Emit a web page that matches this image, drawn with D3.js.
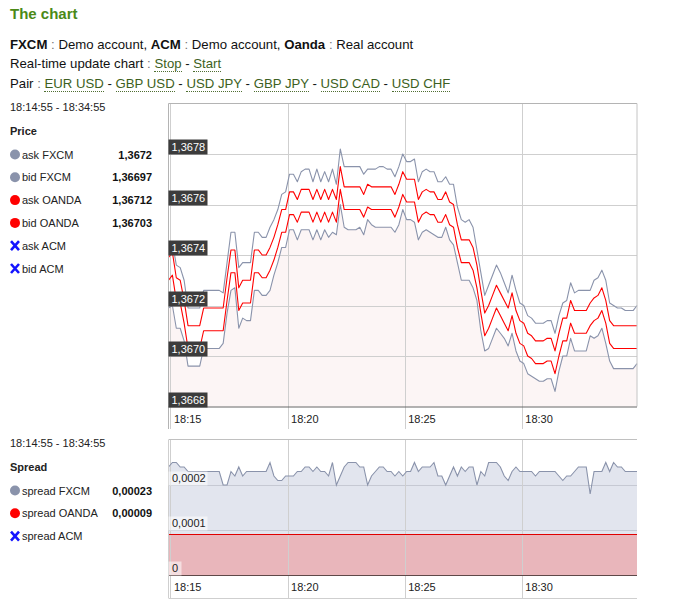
<!DOCTYPE html>
<html><head><meta charset="utf-8">
<script src="https://cdn.jsdelivr.net/npm/d3@7/dist/d3.min.js"></script>
<style>
body{margin:0;background:#fff;font-family:"Liberation Sans",Arial,sans-serif;}
#hdr{position:absolute;left:10px;top:34.5px;font-size:13.2px;line-height:19.6px;color:#111;white-space:nowrap}
#ttl{position:absolute;left:10px;top:5.5px;font-size:15px;line-height:15px;font-weight:bold;color:#4b8a17}
.lk{color:#3d5f22;border-bottom:1px dotted #4f6f32}
.c{color:#777}
svg{position:absolute;left:0;top:0}
</style></head><body>
<div id="ttl">The chart</div>
<div id="hdr">
<div><b>FXCM</b> <span class="c">:</span> Demo account, <b>ACM</b> <span class="c">:</span> Demo account, <b>Oanda</b> <span class="c">:</span> Real account</div>
<div>Real-time update chart <span class="c">:</span> <span class="lk">Stop</span> - <span class="lk">Start</span></div>
<div>Pair <span class="c">:</span> <span class="lk">EUR USD</span> - <span class="lk">GBP USD</span> - <span class="lk">USD JPY</span> - <span class="lk">GBP JPY</span> - <span class="lk">USD CAD</span> - <span class="lk">USD CHF</span></div>
</div>
<svg id="chart" width="687" height="604"></svg>
<script>
// ---- data (10 s samples from 18:14:55 to 18:34:55) ----
const startTime = "18:14:55";
const stepSeconds = 10;
const askFXCM = [1.36743,1.36745,1.36736,1.36735,1.36730,1.36719,1.36719,1.36719,1.36719,1.36726,1.36726,1.36726,1.36726,1.36726,1.36725,
1.36737,1.36749,1.36749,1.36735,1.36737,1.36737,1.36737,1.36749,1.36749,1.36747,1.36747,1.36751,1.36754,1.36758,1.36764,
1.36765,1.36772,1.36772,1.36769,1.36773,1.36774,1.36774,1.36769,1.36774,1.36769,1.36773,1.36769,1.36774,1.36768,1.36782,
1.36775,1.36775,1.36775,1.36775,1.36775,1.36772,1.36774,1.36774,1.36774,1.36775,1.36775,1.36774,1.36774,1.36771,1.36775,
1.36780,1.36777,1.36777,1.36778,1.36769,1.36773,1.36774,1.36773,1.36773,1.36769,1.36769,1.36771,1.36768,1.36768,1.36759,
1.36754,1.36753,1.36754,1.36751,1.36742,1.36733,1.36724,1.36728,1.36732,1.36736,1.36733,1.36729,1.36725,1.36732,1.36726,
1.36721,1.36720,1.36716,1.36715,1.36713,1.36713,1.36713,1.36714,1.36714,1.36709,1.36716,1.36721,1.36722,1.36729,1.36725,
1.36726,1.36726,1.36726,1.36726,1.36730,1.36731,1.36734,1.36730,1.36721,1.36720,1.36719,1.36719,1.36718,1.36718,1.36718,1.36720];
const bidFXCM = [1.36719,1.36720,1.36711,1.36711,1.36706,1.36696,1.36696,1.36696,1.36696,1.36703,1.36703,1.36703,1.36703,1.36703,1.36705,
1.36717,1.36726,1.36727,1.36711,1.36715,1.36714,1.36714,1.36726,1.36726,1.36724,1.36724,1.36726,1.36732,1.36737,1.36743,
1.36743,1.36750,1.36750,1.36746,1.36750,1.36750,1.36750,1.36746,1.36750,1.36746,1.36750,1.36747,1.36749,1.36748,1.36760,
1.36751,1.36750,1.36750,1.36750,1.36751,1.36748,1.36754,1.36752,1.36751,1.36751,1.36751,1.36751,1.36751,1.36749,1.36752,
1.36758,1.36754,1.36754,1.36753,1.36746,1.36749,1.36750,1.36749,1.36748,1.36747,1.36747,1.36751,1.36746,1.36744,1.36737,
1.36730,1.36730,1.36730,1.36727,1.36722,1.36710,1.36702,1.36703,1.36707,1.36711,1.36709,1.36707,1.36704,1.36709,1.36702,
1.36698,1.36697,1.36693,1.36692,1.36691,1.36690,1.36690,1.36691,1.36691,1.36686,1.36694,1.36700,1.36700,1.36707,1.36702,
1.36702,1.36702,1.36702,1.36708,1.36707,1.36708,1.36711,1.36705,1.36698,1.36695,1.36695,1.36695,1.36695,1.36695,1.36695,1.36697];
const askOANDA = [1.36739,1.36741,1.36731,1.36730,1.36722,1.36712,1.36712,1.36712,1.36712,1.36719,1.36719,1.36719,1.36719,1.36719,1.36719,
1.36731,1.36742,1.36742,1.36727,1.36730,1.36730,1.36730,1.36742,1.36742,1.36740,1.36740,1.36743,1.36747,1.36752,1.36758,
1.36758,1.36765,1.36765,1.36762,1.36766,1.36766,1.36766,1.36762,1.36766,1.36762,1.36766,1.36762,1.36766,1.36762,1.36775,
1.36767,1.36767,1.36767,1.36767,1.36767,1.36764,1.36768,1.36767,1.36767,1.36767,1.36767,1.36767,1.36767,1.36764,1.36768,
1.36773,1.36770,1.36770,1.36770,1.36762,1.36765,1.36766,1.36765,1.36765,1.36762,1.36762,1.36765,1.36761,1.36760,1.36752,
1.36746,1.36746,1.36746,1.36743,1.36736,1.36726,1.36717,1.36720,1.36724,1.36728,1.36725,1.36722,1.36719,1.36725,1.36718,
1.36714,1.36713,1.36709,1.36708,1.36706,1.36706,1.36706,1.36707,1.36707,1.36702,1.36709,1.36715,1.36715,1.36722,1.36718,
1.36718,1.36718,1.36718,1.36721,1.36723,1.36724,1.36727,1.36722,1.36714,1.36712,1.36712,1.36712,1.36712,1.36712,1.36712,1.36712];
const bidOANDA = [1.36730,1.36732,1.36722,1.36721,1.36713,1.36703,1.36703,1.36703,1.36703,1.36710,1.36710,1.36710,1.36710,1.36710,1.36710,
1.36722,1.36733,1.36733,1.36718,1.36721,1.36721,1.36721,1.36733,1.36733,1.36731,1.36731,1.36734,1.36738,1.36743,1.36749,
1.36749,1.36756,1.36756,1.36753,1.36757,1.36757,1.36757,1.36753,1.36757,1.36753,1.36757,1.36753,1.36757,1.36753,1.36766,
1.36758,1.36758,1.36758,1.36758,1.36758,1.36755,1.36759,1.36758,1.36758,1.36758,1.36758,1.36758,1.36758,1.36755,1.36759,
1.36764,1.36761,1.36761,1.36761,1.36753,1.36756,1.36757,1.36756,1.36756,1.36753,1.36753,1.36756,1.36752,1.36751,1.36743,
1.36737,1.36737,1.36737,1.36734,1.36727,1.36717,1.36708,1.36711,1.36715,1.36719,1.36716,1.36713,1.36710,1.36716,1.36709,
1.36705,1.36704,1.36700,1.36699,1.36697,1.36697,1.36697,1.36698,1.36698,1.36693,1.36700,1.36706,1.36706,1.36713,1.36709,
1.36709,1.36709,1.36709,1.36712,1.36714,1.36715,1.36718,1.36713,1.36705,1.36703,1.36703,1.36703,1.36703,1.36703,1.36703,1.36703];
const priceTicks = [1.3668, 1.3670, 1.3672, 1.3674, 1.3676, 1.3678];
const priceDomain = [1.3668, 1.3680];
const spreadTicks = [0, 0.0001, 0.0002];
const spreadDomain = [0, 0.0003];
const rangeLabel = "18:14:55 - 18:34:55";
const priceLegend = [
  {name:"ask FXCM", mark:"dot", color:"#8a93ab", series:askFXCM},
  {name:"bid FXCM", mark:"dot", color:"#8a93ab", series:bidFXCM},
  {name:"ask OANDA", mark:"dot", color:"#ff0000", series:askOANDA},
  {name:"bid OANDA", mark:"dot", color:"#ff0000", series:bidOANDA},
  {name:"ask ACM", mark:"x", color:"#1414ff", series:null},
  {name:"bid ACM", mark:"x", color:"#1414ff", series:null}
];

// ---- derived ----
const n = askFXCM.length;
const [hh, mm, ss] = startTime.split(":").map(Number);
const t0 = new Date(2000, 0, 1, hh, mm, ss);
const times = d3.range(n).map(i => new Date(+t0 + i * stepSeconds * 1000));
const spreadFXCM = askFXCM.map((v, i) => v - bidFXCM[i]);
const spreadOANDA = askOANDA.map((v, i) => v - bidOANDA[i]);
const spreadLegend = [
  {name:"spread FXCM", mark:"dot", color:"#8a93ab", series:spreadFXCM},
  {name:"spread OANDA", mark:"dot", color:"#ff0000", series:spreadOANDA},
  {name:"spread ACM", mark:"x", color:"#1414ff", series:null}
];

const svg = d3.select("#chart");
const FONT = '"Liberation Sans", Arial, sans-serif';
const L = 168.5, R = 637;
const x = d3.scaleTime().domain([times[0], times[n - 1]]).range([L, R]);
const xTicks = x.ticks(d3.timeMinute.every(5));
const fmtT = d3.timeFormat("%H:%M");
const comma = s => s.replace(".", ",");

// ---------- price chart ----------
const PT = 103.5, PB = 406.5;
const y = d3.scaleLinear().domain(priceDomain).range([PB, PT]);
const g1 = svg.append("g");
g1.append("path").datum(bidFXCM)
  .attr("d", d3.area().x((d, i) => x(times[i])).y0(PB).y1(d => y(d)))
  .attr("fill", "#fcf5f5");
g1.selectAll("line.h").data(priceTicks.slice(1)).join("line")
  .attr("x1", L).attr("x2", R).attr("y1", d => Math.round(y(d)) + 0.5).attr("y2", d => Math.round(y(d)) + 0.5)
  .attr("stroke", "#cfcfcf");
g1.selectAll("line.v").data(xTicks).join("line")
  .attr("x1", d => Math.round(x(d)) + 0.5).attr("x2", d => Math.round(x(d)) + 0.5)
  .attr("y1", PT).attr("y2", 429).attr("stroke", "#cfcfcf");
const priceLine = d3.line().x((d, i) => x(times[i])).y(d => y(d));
[[askFXCM, "#8a93ab"], [bidFXCM, "#8a93ab"], [askOANDA, "#ff0000"], [bidOANDA, "#ff0000"]].forEach(([s, c]) => {
  g1.append("path").datum(s).attr("d", priceLine).attr("fill", "none")
    .attr("stroke", c).attr("stroke-width", 1.1).attr("stroke-linejoin", "round");
});
// frame
g1.append("line").attr("x1", L).attr("x2", R).attr("y1", PT).attr("y2", PT).attr("stroke", "#b4b4b4");
g1.append("line").attr("x1", L).attr("x2", L).attr("y1", PT).attr("y2", 429).attr("stroke", "#b4b4b4");
g1.append("line").attr("x1", R).attr("x2", R).attr("y1", PT).attr("y2", PB).attr("stroke", "#c4c4c4");
g1.append("line").attr("x1", L).attr("x2", R).attr("y1", PB + 0.5).attr("y2", PB + 0.5).attr("stroke", "#666");
// y labels
const yl = g1.selectAll("g.yl").data(priceTicks).join("g")
  .attr("transform", d => `translate(${L},${Math.round(y(d)) + 0.5})`);
yl.append("rect").attr("x", 0).attr("y", -15).attr("width", 39).attr("height", 15).attr("fill", "#3c3c3c");
yl.append("text").attr("x", 3).attr("y", -3.5).text(d => comma(d.toFixed(4)))
  .attr("fill", "#fff").attr("font-size", 11).attr("font-family", FONT);
// x labels
g1.selectAll("text.xl").data(xTicks).join("text")
  .attr("x", d => x(d) + 3.5).attr("y", 423).text(fmtT)
  .attr("font-size", 11).attr("font-family", FONT).attr("fill", "#222");

// ---------- spread chart ----------
const ST = 440, SB = 575;
const ys = d3.scaleLinear().domain(spreadDomain).range([SB, ST]);
const g2 = svg.append("g");
g2.append("line").attr("x1", L).attr("x2", R).attr("y1", 439.5).attr("y2", 439.5).attr("stroke", "#c0c0c0");
g2.append("path").datum(spreadFXCM)
  .attr("d", d3.area().x((d, i) => x(times[i])).y0(SB).y1(d => ys(d))).attr("fill", "#e2e5ee");
g2.selectAll("line.h").data(spreadTicks.slice(1)).join("line")
  .attr("x1", L).attr("x2", R).attr("y1", d => Math.round(ys(d)) + 0.5).attr("y2", d => Math.round(ys(d)) + 0.5)
  .attr("stroke", "#c6c9d3");
g2.append("path").datum(spreadOANDA)
  .attr("d", d3.area().x((d, i) => x(times[i])).y0(SB).y1(d => ys(d))).attr("fill", "#e9b6bb");
g2.selectAll("line.v").data(xTicks).join("line")
  .attr("x1", d => Math.round(x(d)) + 0.5).attr("x2", d => Math.round(x(d)) + 0.5)
  .attr("y1", ST).attr("y2", 598).attr("stroke", "#cfcfcf");
const spreadLine = d3.line().x((d, i) => x(times[i])).y(d => ys(d));
g2.append("path").datum(spreadFXCM).attr("d", spreadLine).attr("fill", "none").attr("stroke", "#8a93ab").attr("stroke-width", 1.1);
g2.append("path").datum(spreadOANDA).attr("d", spreadLine).attr("fill", "none").attr("stroke", "#e00000").attr("stroke-width", 1.2);
g2.append("line").attr("x1", L).attr("x2", R).attr("y1", SB + 0.5).attr("y2", SB + 0.5).attr("stroke", "#5e4848").attr("stroke-width", 1.2);
g2.append("line").attr("x1", L).attr("x2", R).attr("y1", 598.5).attr("y2", 598.5).attr("stroke", "#cfcfcf");
g2.append("line").attr("x1", L).attr("x2", L).attr("y1", ST).attr("y2", 598).attr("stroke", "#cfcfcf");
const sl = g2.selectAll("g.sl").data(spreadTicks).join("g")
  .attr("transform", d => `translate(${L},${Math.round(ys(d)) + 0.5})`);
sl.append("rect").attr("x", 0).attr("y", -14).attr("height", 14)
  .attr("width", d => d === 0 ? 13 : 39).attr("fill", "#fff").attr("fill-opacity", 0.55);
sl.append("text").attr("x", 3.5).attr("y", -3.5).text(d => d === 0 ? "0" : comma(d.toFixed(4)))
  .attr("fill", "#222").attr("font-size", 11).attr("font-family", FONT);
g2.selectAll("text.xl").data(xTicks).join("text")
  .attr("x", d => x(d) + 3.5).attr("y", 591).text(fmtT)
  .attr("font-size", 11).attr("font-family", FONT).attr("fill", "#222");

// ---------- side legends ----------
function legend(top, title, items, fmt) {
  const g = svg.append("g").attr("font-family", FONT).attr("font-size", 11);
  g.append("text").attr("x", 10).attr("y", top).text(rangeLabel).attr("fill", "#222");
  g.append("text").attr("x", 10).attr("y", top + 24).text(title).attr("font-weight", "bold").attr("fill", "#222");
  items.forEach((it, k) => {
    const by = top + 47.5 + k * 22.8;
    if (it.mark === "dot") {
      g.append("circle").attr("cx", 15).attr("cy", by - 4).attr("r", 5).attr("fill", it.color);
    } else {
      g.append("path").attr("d", `M11,${by - 8.5}L19,${by + 0.5}M19,${by - 8.5}L11,${by + 0.5}`)
        .attr("stroke", it.color).attr("stroke-width", 2.6);
    }
    g.append("text").attr("x", 22).attr("y", by).text(it.name).attr("fill", "#222");
    if (it.series) {
      g.append("text").attr("x", 152).attr("y", by).attr("text-anchor", "end")
        .attr("font-weight", "bold").attr("fill", "#111").text(fmt(it.series[it.series.length - 1]));
    }
  });
}
const fmtPrice = v => comma(v.toFixed(5).replace(/0+$/, ""));
const fmtSpread = v => comma(v.toFixed(5));
legend(111, "Price", priceLegend, fmtPrice);
legend(447, "Spread", spreadLegend, fmtSpread);
</script>
</body></html>
